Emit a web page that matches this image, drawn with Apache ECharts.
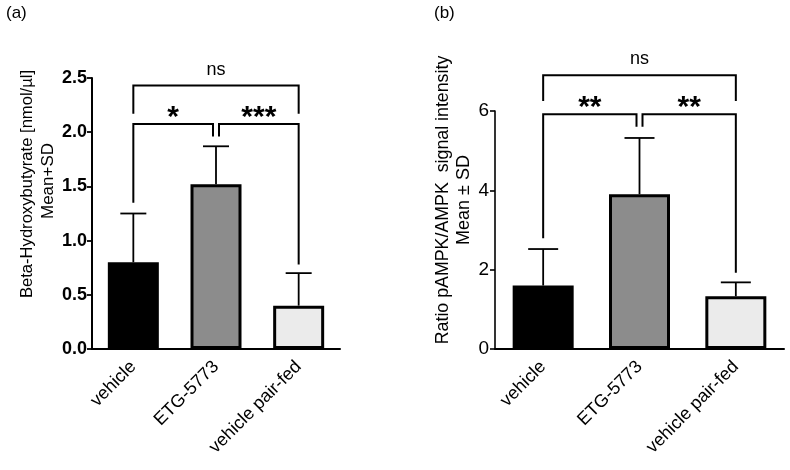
<!DOCTYPE html>
<html>
<head>
<meta charset="utf-8">
<script src="https://cdn.jsdelivr.net/npm/echarts@6/dist/echarts.min.js"></script>
<style>
html,body{margin:0;padding:0;background:#fff;}
#chart{width:790px;height:470px;}
</style>
</head>
<body>
<div id="chart"></div>
<script>
const categories = ['vehicle', 'ETG-5773', 'vehicle pair-fed'];
const bhbMean = [0.80, 1.52, 0.40];
const bhbSD = [0.45, 0.35, 0.30];
const ampkMean = [1.60, 3.90, 1.33];
const ampkSD = [0.92, 1.42, 0.35];
const bhbTicks = [0, 0.5, 1.0, 1.5, 2.0, 2.5];
const ampkTicks = [0, 2, 4, 6];
// brackets: [fromIdx, toIdx, lineY, leftLegBottom, rightLegBottom, label]
const bhbBrackets = [
  [0, 1, 2.075, 1.35, 1.96, '*'],
  [1, 2, 2.075, 1.96, 0.78, '***'],
  [0, 2, 2.43, 2.17, 2.17, 'ns']
];
const ampkBrackets = [
  [0, 1, 5.92, 2.79, 5.60, '**'],
  [1, 2, 5.92, 5.60, 1.92, '**'],
  [0, 2, 6.90, 6.25, 6.25, 'ns']
];
const barColors = ['#000000', '#8c8c8c', '#ebebeb'];
const FONT = 'Liberation Sans, Arial, sans-serif';

function errorRender(cap) {
  return function (params, api) {
    const i = api.value(0), m = api.value(1), t = api.value(2);
    const p0 = api.coord([i, m]);
    const p1 = api.coord([i, t]);
    const st = { stroke: '#000', lineWidth: 1.8 };
    return {
      type: 'group',
      children: [
        { type: 'line', shape: { x1: p0[0], y1: p0[1], x2: p1[0], y2: p1[1] }, style: st },
        { type: 'line', shape: { x1: p1[0] - cap, y1: p1[1], x2: p1[0] + cap, y2: p1[1] }, style: st }
      ]
    };
  };
}

const bracketsFor = {};

function bracketRender(params, api) {
  const a = api.value(0), b = api.value(1), y = api.value(2), ya = api.value(3), yb = api.value(4);
  const label = bracketsFor[params.seriesIndex][params.dataIndex][5];
  const gap = 3;
  const pa = api.coord([a, y]), pb = api.coord([b, y]);
  const pa2 = api.coord([a, ya]), pb2 = api.coord([b, yb]);
  const xa = pa[0] + (a === 1 ? gap : 0);
  const xb = pb[0] - (b === 1 ? gap : 0);
  const st = { stroke: '#000', lineWidth: 2, fill: null };
  const isNs = label === 'ns';
  return {
    type: 'group',
    children: [
      { type: 'polyline', shape: { points: [[xa, pa2[1]], [xa, pa[1]], [xb, pb[1]], [xb, pb2[1]]] }, style: st },
      {
        type: 'text',
        x: (xa + xb) / 2,
        y: pa[1] + (isNs ? -7 : 9),
        style: {
          text: label,
          fill: '#000',
          font: isNs ? ('18px ' + FONT) : ('bold 30px ' + FONT),
          align: 'center', verticalAlign: 'bottom',
          textAlign: 'center', textVerticalAlign: 'bottom'
        }
      }
    ]
  };
}

function makeSeries(gridIdx, means, sds, brackets, barW, cap) {
  const base = gridIdx * 3;
  bracketsFor[base + 2] = brackets;
  return [
    {
      type: 'bar', xAxisIndex: gridIdx, yAxisIndex: gridIdx,
      barWidth: barW,
      data: means.map((v, i) => ({
        value: v,
        itemStyle: { color: barColors[i], borderColor: '#000', borderWidth: 3 }
      })),
      silent: true, z: 3
    },
    {
      type: 'custom', xAxisIndex: gridIdx, yAxisIndex: gridIdx,
      renderItem: errorRender(cap),
      data: means.map((v, i) => [i, v, v + sds[i]]),
      z: 2, silent: true
    },
    {
      type: 'custom', xAxisIndex: gridIdx, yAxisIndex: gridIdx,
      renderItem: bracketRender,
      data: brackets.map(b => [b[0], b[1], b[2], b[3], b[4]]),
      z: 4, silent: true, clip: false
    }
  ];
}

const chart = echarts.init(document.getElementById('chart'), null, { renderer: 'canvas' });

const xAxisCommon = (fs) => ({
  type: 'category',
  data: categories,
  axisLine: { lineStyle: { color: '#000', width: 2 } },
  axisTick: { alignWithLabel: true, length: 7, lineStyle: { color: '#000', width: 1.8 } },
  axisLabel: { rotate: 45, color: '#000', fontSize: fs, fontFamily: FONT, margin: 15 },
  splitLine: { show: false }
});

const option = {
  animation: false,
  backgroundColor: '#fff',
  grid: [
    { left: 92, top: 78, width: 248, height: 271 },
    { left: 495, top: 111, width: 289, height: 238 }
  ],
  xAxis: [
    Object.assign({ gridIndex: 0 }, xAxisCommon(18)),
    Object.assign({ gridIndex: 1 }, xAxisCommon(18))
  ],
  yAxis: [
    {
      gridIndex: 0, type: 'value', min: bhbTicks[0], max: bhbTicks[bhbTicks.length - 1], interval: 0.5,
      axisLine: { show: true, lineStyle: { color: '#000', width: 2 } },
      axisTick: { show: true, length: 5, lineStyle: { color: '#000', width: 1.8 } },
      axisLabel: { color: '#000', fontSize: 18, fontWeight: 'bold', fontFamily: FONT, margin: 5,
        formatter: v => v.toFixed(1) },
      splitLine: { show: false }
    },
    {
      gridIndex: 1, type: 'value', min: ampkTicks[0], max: ampkTicks[ampkTicks.length - 1], interval: 2,
      axisLine: { show: true, lineStyle: { color: '#000', width: 1.6 } },
      axisTick: { show: true, length: 5, lineStyle: { color: '#000', width: 1.6 } },
      axisLabel: { color: '#000', fontSize: 19, fontFamily: FONT, margin: 6 },
      splitLine: { show: false }
    }
  ],
  graphic: [
    { type: 'text', left: 6, top: 5, style: { text: '(a)', font: '17px ' + FONT, fill: '#000' } },
    { type: 'text', left: 434, top: 5, style: { text: '(b)', font: '17px ' + FONT, fill: '#000' } },
    {
      type: 'text', x: 27, y: 184, rotation: Math.PI / 2,
      style: { text: 'Beta-Hydroxybutyrate [nmol/µl]', font: '16.6px ' + FONT, fill: '#000',
        align: 'center', verticalAlign: 'middle', textAlign: 'center', textVerticalAlign: 'middle' }
    },
    {
      type: 'text', x: 48, y: 181, rotation: Math.PI / 2,
      style: { text: 'Mean+SD', font: '17px ' + FONT, fill: '#000',
        align: 'center', verticalAlign: 'middle', textAlign: 'center', textVerticalAlign: 'middle' }
    },
    {
      type: 'text', x: 443, y: 200, rotation: Math.PI / 2,
      style: { text: 'Ratio pAMPK/AMPK  signal intensity', font: '17.8px ' + FONT, fill: '#000',
        align: 'center', verticalAlign: 'middle', textAlign: 'center', textVerticalAlign: 'middle' }
    },
    {
      type: 'text', x: 464, y: 200, rotation: Math.PI / 2,
      style: { text: 'Mean ± SD', font: '18px ' + FONT, fill: '#000',
        align: 'center', verticalAlign: 'middle', textAlign: 'center', textVerticalAlign: 'middle' }
    }
  ],
  series: [].concat(
    makeSeries(0, bhbMean, bhbSD, bhbBrackets, 51, 13),
    makeSeries(1, ampkMean, ampkSD, ampkBrackets, 61, 15)
  )
};
chart.setOption(option);
</script>
</body>
</html>
